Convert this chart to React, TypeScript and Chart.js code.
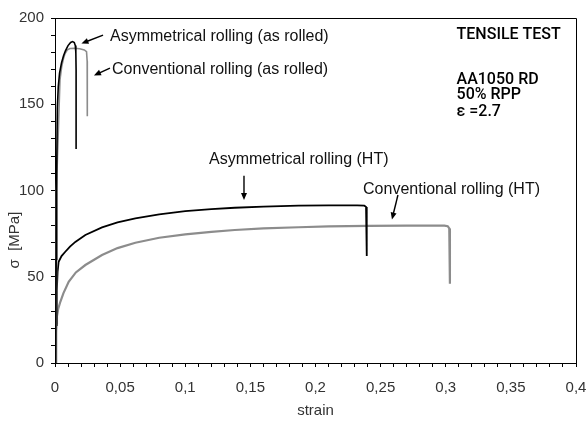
import React, { useEffect, useRef } from "react";
import { Chart, registerables } from "chart.js";

Chart.register(...registerables);

// ---- Data ----
const asymRolledStrain = [0.0005, 0.0009, 0.0013, 0.0018, 0.0025, 0.0035, 0.005, 0.0065, 0.008, 0.01, 0.012, 0.0135, 0.0148, 0.0156, 0.016, 0.0162, 0.0162];
const asymRolledStress = [0, 60, 110, 148, 160, 168, 174, 178, 181, 184, 185.8, 186.3, 185.8, 184, 180, 170, 124];

const convRolledStrain = [0.0008, 0.001, 0.0013, 0.0019, 0.0025, 0.0038, 0.0051, 0.0065, 0.0077, 0.0095, 0.0115, 0.015, 0.019, 0.0225, 0.0242, 0.0247, 0.0248];
const convRolledStress = [0, 50, 100, 120, 133, 164, 171.7, 176.5, 179.4, 181.5, 182.3, 182.5, 182.2, 181.5, 180.5, 175, 143];

const asymHTStrain = [0.0005, 0.0009, 0.0014, 0.002, 0.0028, 0.005, 0.0079, 0.0115, 0.0156, 0.0233, 0.0361, 0.048, 0.0617, 0.08, 0.1, 0.12, 0.138, 0.16, 0.187, 0.21, 0.232, 0.2375, 0.2388, 0.2393, 0.2394];
const asymHTStress = [0, 22, 42, 53, 58.7, 62, 64.5, 67.5, 70.2, 74.2, 78.6, 81.5, 83.9, 86.2, 88.1, 89.2, 90, 90.7, 91.2, 91.4, 91.4, 91.2, 90.5, 88, 62];

const convHTStrain = [0.0003, 0.0006, 0.001, 0.0015, 0.0025, 0.0041, 0.0065, 0.0105, 0.016, 0.0233, 0.0361, 0.048, 0.0617, 0.08, 0.1, 0.12, 0.138, 0.16, 0.187, 0.21, 0.24, 0.27, 0.299, 0.3015, 0.3027, 0.3032];
const convHTStress = [0, 16, 23, 27, 31.5, 35.5, 40.5, 47.1, 52.5, 56.8, 62.6, 66.6, 69.7, 72.6, 74.6, 76, 77.1, 78, 78.7, 79.2, 79.5, 79.6, 79.6, 79.3, 78, 46];

const xTickLabels = ["0", "0,05", "0,1", "0,15", "0,2", "0,25", "0,3", "0,35", "0,4"];
const yTickLabels = ["0", "50", "100", "150", "200"];

const annotationTexts = [
  "Asymmetrical rolling (as rolled)",
  "Conventional rolling (as rolled)",
  "Asymmetrical rolling (HT)",
  "Conventional rolling (HT)",
];
// text anchor (left, middle) in data units
const annotationTextX = [0.0422, 0.0438, 0.1182, 0.2365];
const annotationTextY = [189, 169.9, 117.7, 100.3];
// arrows: tail -> head, data units
const arrowFromX = [0.0369, 0.0422, 0.1451, 0.2633];
const arrowFromY = [190.1, 171, 108.5, 97.4];
const arrowToX = [0.0203, 0.0299, 0.1451, 0.2587];
const arrowToY = [185.2, 166.7, 94.5, 83.2];

const infoLines = ["TENSILE TEST", "AA1050 RD", "50% RPP", "\u03b5 =2.7"];
const infoStress = [190.4, 164.1, 155.1, 145.5];
const infoStrain = 0.3083;

const FONT = "'Liberation Sans', Arial, Helvetica, sans-serif";
const INFO_FONT = "500 16px Roboto, 'Liberation Sans', Arial, sans-serif";
const BLACK = "#000000";
const GREY = "#8c8c8c";

const toPts = (xs: number[], ys: number[]) => xs.map((x, i) => ({ x, y: ys[i] }));

const overlayPlugin = {
  id: "overlay",
  afterDraw(chart: any) {
    const { ctx, chartArea, scales } = chart;
    const xs = scales.x;
    const ys = scales.y;
    ctx.save();
    // frame top & right
    ctx.strokeStyle = "#000";
    ctx.lineWidth = 1;
    ctx.beginPath();
    ctx.moveTo(Math.round(chartArea.left) + 0.5, Math.round(chartArea.top) + 0.5);
    ctx.lineTo(Math.round(chartArea.right) + 0.5, Math.round(chartArea.top) + 0.5);
    ctx.lineTo(Math.round(chartArea.right) + 0.5, Math.round(chartArea.bottom) + 0.5);
    ctx.stroke();

    // annotations
    ctx.font = `16px ${FONT}`;
    ctx.textBaseline = "middle";
    ctx.textAlign = "left";
    annotationTexts.forEach((t, i) => {
      ctx.fillStyle = "#111";
      ctx.fillText(t, xs.getPixelForValue(annotationTextX[i]), ys.getPixelForValue(annotationTextY[i]));
      const x1 = xs.getPixelForValue(arrowFromX[i]);
      const y1 = ys.getPixelForValue(arrowFromY[i]);
      const x2 = xs.getPixelForValue(arrowToX[i]);
      const y2 = ys.getPixelForValue(arrowToY[i]);
      const ang = Math.atan2(y2 - y1, x2 - x1);
      const hl = 7;
      const hw = 3;
      ctx.strokeStyle = "#000";
      ctx.lineWidth = 1.4;
      ctx.beginPath();
      ctx.moveTo(x1, y1);
      ctx.lineTo(x2 - Math.cos(ang) * hl * 0.8, y2 - Math.sin(ang) * hl * 0.8);
      ctx.stroke();
      ctx.fillStyle = "#000";
      ctx.beginPath();
      ctx.moveTo(x2, y2);
      ctx.lineTo(x2 - Math.cos(ang) * hl - Math.sin(ang) * hw, y2 - Math.sin(ang) * hl + Math.cos(ang) * hw);
      ctx.lineTo(x2 - Math.cos(ang) * hl + Math.sin(ang) * hw, y2 - Math.sin(ang) * hl - Math.cos(ang) * hw);
      ctx.closePath();
      ctx.fill();
    });

    // info block
    ctx.fillStyle = "#000";
    ctx.font = INFO_FONT;
    infoLines.forEach((t, i) => {
      ctx.fillText(t, xs.getPixelForValue(infoStrain), ys.getPixelForValue(infoStress[i]));
    });

    // axis titles
    ctx.fillStyle = "#333";
    ctx.font = `15px ${FONT}`;
    ctx.textAlign = "center";
    ctx.fillText("strain", (chartArea.left + chartArea.right) / 2, 411);
    ctx.translate(15, ys.getPixelForValue(71.3));
    ctx.rotate(-Math.PI / 2);
    ctx.fillText("\u03c3  [MPa]", 0, 0);
    ctx.restore();
  },
};

export default function App() {
  const ref = useRef<HTMLCanvasElement | null>(null);
  useEffect(() => {
    if (!ref.current) return;
    Chart.defaults.font.family = FONT;
    const chart = new Chart(ref.current, {
      type: "scatter",
      data: {
        datasets: [
          { label: "Asymmetrical rolling (as rolled)", data: toPts(asymRolledStrain, asymRolledStress), borderColor: BLACK, borderWidth: 1.6 },
          { label: "Conventional rolling (as rolled)", data: toPts(convRolledStrain, convRolledStress), borderColor: GREY, borderWidth: 1.6 },
          { label: "Asymmetrical rolling (HT)", data: toPts(asymHTStrain, asymHTStress), borderColor: BLACK, borderWidth: 1.8 },
          { label: "Conventional rolling (HT)", data: toPts(convHTStrain, convHTStress), borderColor: GREY, borderWidth: 2.2 },
        ].map((d) => ({ ...d, showLine: true, pointRadius: 0, tension: 0, fill: false })),
      },
      options: {
        animation: false,
        responsive: false,
        devicePixelRatio: 1,
        layout: { padding: { top: 18, right: 11, left: 0, bottom: 0 } },
        plugins: { legend: { display: false }, tooltip: { enabled: false } },
        scales: {
          x: {
            type: "linear",
            min: 0,
            max: 0.4,
            afterFit: (s: any) => { s.height = 58; s.paddingLeft = 0; s.paddingRight = 0; },
            ticks: {
              stepSize: 0.01,
              autoSkip: false,
              maxRotation: 0,
              padding: 12,
              color: "#333",
              font: { size: 15, family: FONT },
              callback: (v: any) => {
                const k = Math.round(Number(v) * 100);
                return k % 5 === 0 ? xTickLabels[k / 5] : "";
              },
            },
            grid: { display: true, drawOnChartArea: false, drawTicks: true, tickLength: 4, color: "#000", lineWidth: 1 },
            border: { display: true, color: "#000", width: 1 },
          },
          y: {
            type: "linear",
            min: 0,
            max: 200,
            afterFit: (s: any) => { s.width = 55; s.paddingTop = 0; s.paddingBottom = 0; },
            ticks: {
              stepSize: 10,
              autoSkip: false,
              padding: 7,
              color: "#333",
              font: { size: 15, family: FONT },
              callback: (v: any) => {
                const k = Math.round(Number(v));
                return k % 50 === 0 ? yTickLabels[k / 50] : "";
              },
            },
            grid: { display: true, drawOnChartArea: false, drawTicks: true, tickLength: 4, color: "#000", lineWidth: 1 },
            border: { display: true, color: "#000", width: 1 },
          },
        },
      },
      plugins: [overlayPlugin],
    });
    return () => chart.destroy();
  }, []);
  return (
    <div style={{ position: "absolute", left: 0, top: 0, width: 587, height: 421, background: "#fff" }}>
      <canvas ref={ref} width={587} height={421} style={{ width: 587, height: 421, display: "block" }} />
    </div>
  );
}
